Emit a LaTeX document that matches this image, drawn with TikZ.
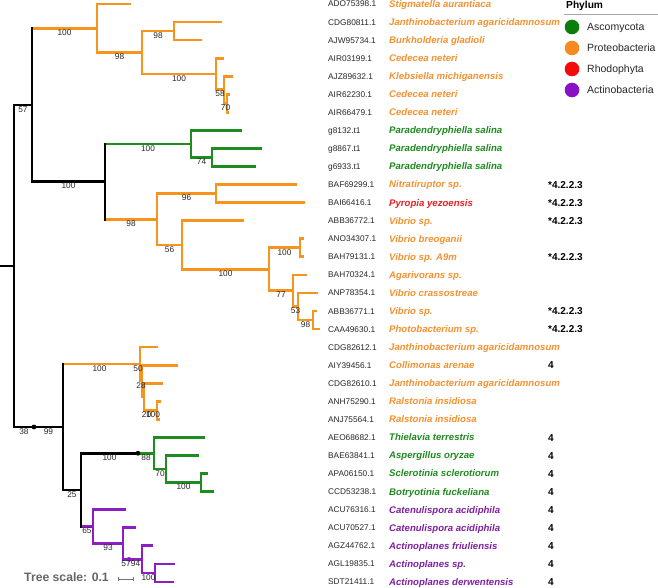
\documentclass[tikz,border=0pt]{standalone}
\usepackage{fontspec}
\setmainfont{Liberation Sans}
\usetikzlibrary{calc}
\definecolor{cOr}{HTML}{F7941D}
\definecolor{cGr}{HTML}{1E8C1E}
\definecolor{cPu}{HTML}{8B1FC4}
\definecolor{tOr}{HTML}{F39130}
\definecolor{tGr}{HTML}{1E8A1E}
\definecolor{tRe}{HTML}{E31E24}
\definecolor{tPu}{HTML}{7E1FA0}
\definecolor{lgGr}{HTML}{0B7D0B}
\definecolor{lgOr}{HTML}{F58A1F}
\definecolor{lgRe}{HTML}{F50A0A}
\definecolor{lgPu}{HTML}{8A10C8}
\newcommand\leafnode[6]{%
  \coordinate (#1) at (#3,#2);
  \node[acc] (#1a) at (328,#2) {#4};
  \node[sp,text=#6] (#1s) at (389,#2) {#5};}
\newcommand\tedge[3]{\draw[#1] (#2 |- #3) -- (#3);}
\newcommand\nbar[4]{\draw[#1] (#2 |- #3) -- (#2 |- #4);}
\newcommand\bsl[4]{\node[bs] (#1) at (#2,#3) {#4};}
\begin{document}
\begin{tikzpicture}[x=1pt,y=-18.06pt,
  br/.style={line width=2.7pt,line cap=rect},
  k/.style={br,black}, or/.style={br,cOr}, gr/.style={br,cGr}, pu/.style={br,cPu},
  bs/.style={anchor=north,inner sep=1.2pt,font=\fontsize{8.3}{9}\selectfont,text=black!85},
  acc/.style={anchor=base west,inner sep=0pt,font=\fontsize{8.3}{10}\selectfont,text=black!85,yshift=-3pt},
  sp/.style={anchor=base west,inner sep=0pt,font=\fontsize{9.6}{11}\selectfont\bfseries\itshape,yshift=-3.4pt},
  ec/.style={anchor=base west,inner sep=0pt,font=\fontsize{10}{12}\selectfont\bfseries,yshift=-3.6pt},
  lg/.style={anchor=base west,inner sep=0pt,font=\fontsize{10.5}{12}\selectfont,text=black!85,yshift=-3.7pt},
  dotn/.style={circle,inner sep=0pt,minimum size=4.8pt}]
\useasboundingbox (0pt,4pt) rectangle (658pt,-584pt);
% leaves
\leafnode{L0}{0}{130}{ADO75398.1}{Stigmatella aurantiaca}{tOr}
\leafnode{L1}{1}{221}{CDG80811.1}{Janthinobacterium agaricidamnosum}{tOr}
\leafnode{L2}{2}{201}{AJW95734.1}{Burkholderia gladioli}{tOr}
\leafnode{L3}{3}{223}{AIR03199.1}{Cedecea neteri}{tOr}
\leafnode{L4}{4}{232}{AJZ89632.1}{Klebsiella michiganensis}{tOr}
\leafnode{L5}{5}{229}{AIR62230.1}{Cedecea neteri}{tOr}
\leafnode{L6}{6}{228}{AIR66479.1}{Cedecea neteri}{tOr}
\leafnode{L7}{7}{241}{g8132.t1}{Paradendryphiella salina}{tGr}
\leafnode{L8}{8}{261}{g8867.t1}{Paradendryphiella salina}{tGr}
\leafnode{L9}{9}{255}{g6933.t1}{Paradendryphiella salina}{tGr}
\leafnode{L10}{10}{296}{BAF69299.1}{Nitratiruptor sp.}{tOr}
\leafnode{L11}{11}{304}{BAI66416.1}{Pyropia yezoensis}{tRe}
\leafnode{L12}{12}{243}{ABB36772.1}{Vibrio sp.}{tOr}
\leafnode{L13}{13}{303}{ANO34307.1}{Vibrio breoganii}{tOr}
\leafnode{L14}{14}{303}{BAH79131.1}{Vibrio sp. A9m}{tOr}
\leafnode{L15}{15}{306}{BAH70324.1}{Agarivorans sp.}{tOr}
\leafnode{L16}{16}{317}{ANP78354.1}{Vibrio crassostreae}{tOr}
\leafnode{L17}{17}{316}{ABB36771.1}{Vibrio sp.}{tOr}
\leafnode{L18}{18}{319}{CAA49630.1}{Photobacterium sp.}{tOr}
\leafnode{L19}{19}{157}{CDG82612.1}{Janthinobacterium agaricidamnosum}{tOr}
\leafnode{L20}{20}{177}{AIY39456.1}{Collimonas arenae}{tOr}
\leafnode{L21}{21}{162}{CDG82610.1}{Janthinobacterium agaricidamnosum}{tOr}
\leafnode{L22}{22}{160}{ANH75290.1}{Ralstonia insidiosa}{tOr}
\leafnode{L23}{23}{159}{ANJ75564.1}{Ralstonia insidiosa}{tOr}
\leafnode{L24}{24}{204}{AEO68682.1}{Thielavia terrestris}{tGr}
\leafnode{L25}{25}{198}{BAE63841.1}{Aspergillus oryzae}{tGr}
\leafnode{L26}{26}{207}{APA06150.1}{Sclerotinia sclerotiorum}{tGr}
\leafnode{L27}{27}{213}{CCD53238.1}{Botryotinia fuckeliana}{tGr}
\leafnode{L28}{28}{125}{ACU76316.1}{Catenulispora acidiphila}{tPu}
\leafnode{L29}{29}{135}{ACU70527.1}{Catenulispora acidiphila}{tPu}
\leafnode{L30}{30}{152}{AGZ44762.1}{Actinoplanes friuliensis}{tPu}
\leafnode{L31}{31}{174}{AGL19835.1}{Actinoplanes sp.}{tPu}
\leafnode{L32}{32}{173}{SDT21411.1}{Actinoplanes derwentensis}{tPu}
% EC annotations
\foreach \r in {10,11,12,14,17,18} {\node[ec] (e\r) at (548,\r) {*4.2.2.3};}
\foreach \r in {20,24,25,26,27,28,29,30,31,32} {\node[ec] (e\r) at (548,\r) {4};}
% internal nodes
\coordinate (Rs) at (0,14.5);
\coordinate (R) at (14,14.5);
\coordinate (n57) at (32,5.588);
\coordinate (nA) at (97,1.344);
\coordinate (nA2) at (142,2.6875);
\coordinate (nA3) at (174,1.5);
\coordinate (nA4) at (216,3.875);
\coordinate (n58) at (224,4.75);
\coordinate (n70) at (227,5.5);
\coordinate (nB) at (105,9.836);
\coordinate (nG1) at (191,7.75);
\coordinate (nG2) at (212,8.5);
\coordinate (nP0) at (157,11.92);
\coordinate (nP1) at (216,10.5);
\coordinate (nP2) at (182,13.34);
\coordinate (nV0) at (269,14.6875);
\coordinate (nV1) at (300,13.5);
\coordinate (nV2) at (293,15.875);
\coordinate (nV3) at (298,16.75);
\coordinate (nV4) at (313,17.5);
\coordinate (nJd) at (34,23.42);
\coordinate (nJ) at (63,23.42);
\coordinate (NCd) at (136,19.9375);
\coordinate (NC) at (140,19.9375);
\coordinate (N50) at (142,20.875);
\coordinate (N28) at (144,21.75);
\coordinate (N20) at (146,22.5);
\coordinate (N100) at (157,22.5);
\coordinate (nK) at (81,26.906);
\coordinate (nGd) at (138,24.875);
\coordinate (nG3) at (154,24.875);
\coordinate (nG4) at (166,25.75);
\coordinate (nG5) at (201,26.5);
\coordinate (nU1) at (93,28.9375);
\coordinate (nU2) at (123,29.875);
\coordinate (nUd) at (129,30.75);
\coordinate (nU3) at (142,30.75);
\coordinate (nU4) at (155,31.5);
% orange upper clade
\tedge{or}{n57}{nA}
\nbar{or}{nA}{L0}{nA2} \tedge{or}{nA}{L0} \tedge{or}{nA}{nA2}
\nbar{or}{nA2}{nA3}{nA4} \tedge{or}{nA2}{nA3} \tedge{or}{nA2}{nA4}
\nbar{or}{nA3}{L1}{L2} \tedge{or}{nA3}{L1} \tedge{or}{nA3}{L2}
\nbar{or}{nA4}{L3}{n58} \tedge{or}{nA4}{L3} \tedge{or}{nA4}{n58}
\nbar{or}{n58}{L4}{n70} \tedge{or}{n58}{L4} \tedge{or}{n58}{n70}
\nbar{or}{n70}{L5}{L6} \tedge{or}{n70}{L5} \tedge{or}{n70}{L6}
% green upper
\tedge{gr}{nB}{nG1}
\nbar{gr}{nG1}{L7}{nG2} \tedge{gr}{nG1}{L7} \tedge{gr}{nG1}{nG2}
\nbar{gr}{nG2}{L8}{L9} \tedge{gr}{nG2}{L8} \tedge{gr}{nG2}{L9}
% orange middle
\tedge{or}{nB}{nP0}
\nbar{or}{nP0}{nP1}{nP2} \tedge{or}{nP0}{nP1} \tedge{or}{nP0}{nP2}
\nbar{or}{nP1}{L10}{L11} \tedge{or}{nP1}{L10} \tedge{or}{nP1}{L11}
\nbar{or}{nP2}{L12}{nV0} \tedge{or}{nP2}{L12} \tedge{or}{nP2}{nV0}
\nbar{or}{nV0}{nV1}{nV2} \tedge{or}{nV0}{nV1} \tedge{or}{nV0}{nV2}
\nbar{or}{nV1}{L13}{L14} \tedge{or}{nV1}{L13} \tedge{or}{nV1}{L14}
\nbar{or}{nV2}{L15}{nV3} \tedge{or}{nV2}{L15} \tedge{or}{nV2}{nV3}
\nbar{or}{nV3}{L16}{nV4} \tedge{or}{nV3}{L16} \tedge{or}{nV3}{nV4}
\nbar{or}{nV4}{L17}{L18} \tedge{or}{nV4}{L17} \tedge{or}{nV4}{L18}
% orange lower
\tedge{or}{nJ}{NCd} \tedge{or}{NCd}{NC}
\nbar{or}{NC}{L19}{N50} \tedge{or}{NC}{L19} \tedge{or}{NC}{N50}
\nbar{or}{N50}{L20}{N28} \tedge{or}{N50}{L20} \tedge{or}{N50}{N28}
\nbar{or}{N28}{L21}{N20} \tedge{or}{N28}{L21} \tedge{or}{N28}{N20}
\tedge{or}{N20}{N100}
\nbar{or}{N100}{L22}{L23} \tedge{or}{N100}{L22} \tedge{or}{N100}{L23}
% green lower
\tedge{gr}{nGd}{nG3}
\nbar{gr}{nG3}{L24}{nG4} \tedge{gr}{nG3}{L24} \tedge{gr}{nG3}{nG4}
\nbar{gr}{nG4}{L25}{nG5} \tedge{gr}{nG4}{L25} \tedge{gr}{nG4}{nG5}
\nbar{gr}{nG5}{L26}{L27} \tedge{gr}{nG5}{L26} \tedge{gr}{nG5}{L27}
% purple
\tedge{pu}{nK}{nU1}
\nbar{pu}{nU1}{L28}{nU2} \tedge{pu}{nU1}{L28} \tedge{pu}{nU1}{nU2}
\nbar{pu}{nU2}{L29}{nUd} \tedge{pu}{nU2}{L29} \tedge{pu}{nU2}{nUd} \tedge{pu}{nUd}{nU3}
\nbar{pu}{nU3}{L30}{nU4} \tedge{pu}{nU3}{L30} \tedge{pu}{nU3}{nU4}
\nbar{pu}{nU4}{L31}{L32} \tedge{pu}{nU4}{L31} \tedge{pu}{nU4}{L32}
% black backbone
\draw[k] (Rs) -- (R);
\nbar{k}{R}{n57}{nJ} \tedge{k}{R}{n57}
\nbar{k}{n57}{nA}{nB} \tedge{k}{n57}{nB}
\nbar{k}{nB}{nG1}{nP0}
\tedge{k}{R}{nJd} \tedge{k}{nJd}{nJ}
\nbar{k}{nJ}{NC}{nK} \tedge{k}{nJ}{nK}
\nbar{k}{nK}{nGd}{nU1} \tedge{k}{nK}{nGd}
\node[dotn,fill=black] (dJ) at (nJd) {};
\node[dotn,fill=black] (dG) at (nGd) {};
\node[dotn,fill=cPu] (dU) at (nUd) {};
% bootstrap labels
\bsl{b1}{23}{5.588}{57}
\bsl{b2}{64.5}{1.344}{100}
\bsl{b3}{119.5}{2.6875}{98}
\bsl{b4}{158}{1.5}{98}
\bsl{b5}{179}{3.875}{100}
\bsl{b6}{220}{4.75}{58}
\bsl{b7}{225.5}{5.5}{70}
\bsl{b8}{68.5}{9.836}{100}
\bsl{b9}{148}{7.75}{100}
\bsl{b10}{201.5}{8.5}{74}
\bsl{b11}{131}{11.92}{98}
\bsl{b12}{186.5}{10.5}{96}
\bsl{b13}{169.5}{13.34}{56}
\bsl{b14}{225.5}{14.6875}{100}
\bsl{b15}{284.5}{13.5}{100}
\bsl{b16}{281}{15.875}{77}
\bsl{b17}{295.5}{16.75}{53}
\bsl{b18}{305.5}{17.5}{98}
\bsl{b19}{99.5}{19.9375}{100}
\bsl{b20}{138}{19.9375}{50}
\bsl{b21}{141}{20.875}{28}
\bsl{b22}{146.5}{22.5}{20}
\bsl{b23}{153}{22.5}{100}
\bsl{b24}{24}{23.42}{38}
\bsl{b25}{48.5}{23.42}{99}
\bsl{b26}{109.5}{24.875}{100}
\bsl{b27}{146}{24.875}{88}
\bsl{b28}{160}{25.75}{70}
\bsl{b29}{183.5}{26.5}{100}
\bsl{b30}{72}{26.906}{25}
\bsl{b31}{87}{28.9375}{65}
\bsl{b32}{108}{29.875}{93}
\bsl{b33}{126}{30.75}{57}
\bsl{b34}{135.5}{30.75}{94}
\bsl{b35}{148.5}{31.5}{100}
% tree scale
\node[anchor=base,inner sep=0pt,font=\fontsize{12.2}{14}\selectfont\bfseries,text=black!60] (ts) at (66.5pt,-577pt) {Tree scale: 0.1};
\coordinate (sb1) at (118pt,-575pt);
\coordinate (sb2) at (133pt,-575pt);
\draw[black!55,line width=0.7pt] (sb1) -- (sb2);
\draw[black!55,line width=0.7pt] ($(sb1)+(0,1.8pt)$) -- ($(sb1)-(0,1.8pt)$);
\draw[black!55,line width=0.7pt] ($(sb2)+(0,1.8pt)$) -- ($(sb2)-(0,1.8pt)$);
% legend
\node[anchor=base west,inner sep=0pt,font=\fontsize{10.2}{12}\selectfont\bfseries] (ph) at (566pt,-4.6pt) {Phylum};
\coordinate (lg1) at (564pt,-10.3pt);
\coordinate (lg2) at (658pt,-10.3pt);
\draw[black!35,line width=0.8pt] (lg1) -- (lg2);
\node[circle,fill=lgGr,minimum size=14.6pt,inner sep=0pt] (c1) at (572pt,-23pt) {};
\node[circle,fill=lgOr,minimum size=14.6pt,inner sep=0pt] (c2) at (572pt,-44pt) {};
\node[circle,fill=lgRe,minimum size=14.6pt,inner sep=0pt] (c3) at (572pt,-65pt) {};
\node[circle,fill=lgPu,minimum size=14.6pt,inner sep=0pt] (c4) at (572pt,-86pt) {};
\node[lg] (t1) at (587pt,-23pt) {Ascomycota};
\node[lg] (t2) at (587pt,-44pt) {Proteobacteria};
\node[lg] (t3) at (587pt,-65pt) {Rhodophyta};
\node[lg] (t4) at (587pt,-86pt) {Actinobacteria};
\end{tikzpicture}
\end{document}
